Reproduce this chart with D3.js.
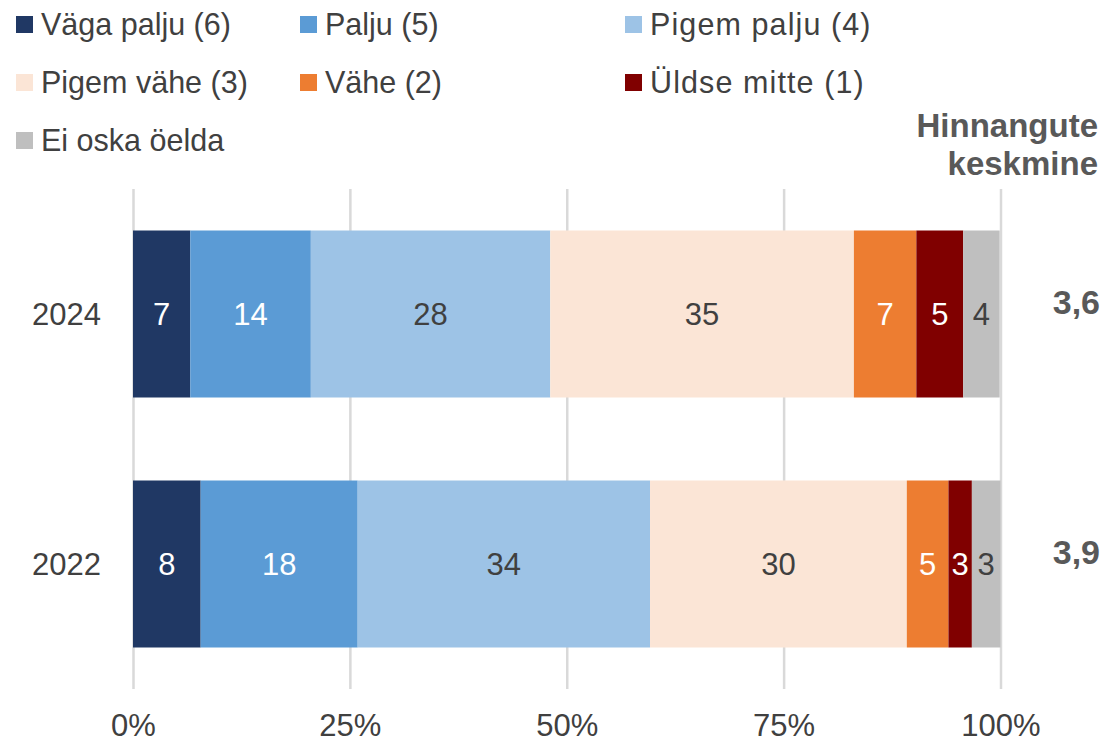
<!DOCTYPE html>
<html>
<head>
<meta charset="utf-8">
<script src="https://cdn.jsdelivr.net/npm/d3@7"></script>
<style>
  body { margin: 0; background: #fff; }
  svg text { font-family: "Liberation Sans", Arial, sans-serif; }
</style>
</head>
<body>
<div id="chart"></div>
<script>
// categories (answer scale) and colours
var categories = ["Väga palju (6)", "Palju (5)", "Pigem palju (4)",
                  "Pigem vähe (3)", "Vähe (2)", "Üldse mitte (1)", "Ei oska öelda"];
var colors = ["#203864", "#5b9bd5", "#9dc3e6", "#fbe5d6", "#ed7d31", "#800000", "#bfbfbf"];
var labelColors = ["#ffffff", "#ffffff", "#404040", "#404040", "#ffffff", "#ffffff", "#404040"];

var years = ["2024", "2022"];
var values2024 = [6.6, 13.9, 27.6, 35.0, 7.2, 5.4, 4.2];
var values2022 = [7.8, 18.1, 33.7, 29.6, 4.8, 2.7, 3.3];
var averages = ["3,6", "3,9"];
var ticks = [0, 25, 50, 75, 100];

var width = 1107, height = 743;

var svg = d3.select("#chart").append("svg")
    .attr("width", width)
    .attr("height", height);

// build rows for d3.stack
var rows = years.map(function(y, i) {
    var vals = i == 0 ? values2024 : values2022;
    var row = { year: y };
    categories.forEach(function(c, j) { row[c] = vals[j]; });
    return row;
});

var stack = d3.stack().keys(categories);
var series = stack(rows);

var x = d3.scaleLinear().domain([0, 100]).range([133, 1000.5]);
var y = d3.scaleBand().domain(years).range([189, 689])
    .paddingInner(0.332).paddingOuter(0.166);

// gridlines + tick labels
var xAxis = d3.axisBottom(x)
    .tickValues(ticks)
    .tickFormat(function(d) { return d + "%"; })
    .tickSize(500)
    .tickPadding(0);

var gx = svg.append("g")
    .attr("transform", "translate(0,189)")
    .call(xAxis);
gx.select(".domain").remove();
gx.selectAll(".tick line")
    .attr("stroke", "#d9d9d9")
    .attr("stroke-width", 2.5);
gx.selectAll(".tick text")
    .attr("y", 547)
    .attr("dy", 0)
    .attr("fill", "#404040")
    .style("font-size", "31px");

// bars
var groups = svg.selectAll("g.series")
    .data(series)
  .enter().append("g")
    .attr("class", "series")
    .attr("fill", function(d, i) { return colors[i]; });

groups.selectAll("rect")
    .data(function(d) { return d; })
  .enter().append("rect")
    .attr("x", function(d) { return x(d[0]); })
    .attr("width", function(d) { return x(d[1]) - x(d[0]); })
    .attr("y", function(d) { return y(d.data.year); })
    .attr("height", y.bandwidth());

// value labels
groups.each(function(s, i) {
    d3.select(this).selectAll("text")
	.data(s)
      .enter().append("text")
	.attr("x", function(d) { return (x(d[0]) + x(d[1])) / 2; })
	.attr("y", function(d) { return y(d.data.year) + y.bandwidth() / 2; })
	.attr("dy", "0.36em")
	.attr("text-anchor", "middle")
	.attr("fill", labelColors[i])
	.style("font-size", "31px")
	.text(function(d) { return Math.round(d[1] - d[0]); });
});

// year labels
svg.selectAll("text.year")
    .data(years)
  .enter().append("text")
    .attr("class", "year")
    .attr("x", 101)
    .attr("y", function(d) { return y(d) + y.bandwidth() / 2; })
    .attr("dy", "0.36em")
    .attr("text-anchor", "end")
    .attr("fill", "#404040")
    .style("font-size", "31px")
    .text(function(d) { return d; });

// averages
svg.selectAll("text.avg")
    .data(averages)
  .enter().append("text")
    .attr("class", "avg")
    .attr("x", 1100)
    .attr("y", function(d, i) { return y(years[i]) + y.bandwidth() / 2; })
    .attr("text-anchor", "end")
    .attr("fill", "#595959")
    .style("font-size", "34px")
    .style("font-weight", "bold")
    .text(function(d) { return d; });

var head = svg.append("text")
    .attr("text-anchor", "end")
    .attr("fill", "#595959")
    .style("font-size", "33px")
    .style("font-weight", "bold");
head.append("tspan").attr("x", 1098).attr("y", 137).text("Hinnangute");
head.append("tspan").attr("x", 1098).attr("y", 175).text("keskmine");

// legend, three columns
var colX = [16, 300, 625];
var legend = svg.selectAll("g.legend")
    .data(categories)
  .enter().append("g")
    .attr("class", "legend")
    .attr("transform", function(d, i) {
	return "translate(" + colX[i % 3] + "," + (16 + Math.floor(i / 3) * 58) + ")";
    });
legend.append("rect")
    .attr("width", 17)
    .attr("height", 17)
    .attr("fill", function(d, i) { return colors[i]; });
legend.append("text")
    .attr("x", 25)
    .attr("y", 19)
    .attr("fill", "#404040")
    .style("font-size", "30.5px")
    .style("letter-spacing", function(d, i) { return i % 3 == 2 ? "1.1px" : "0px"; })
    .text(function(d) { return d; });
</script>
</body>
</html>
